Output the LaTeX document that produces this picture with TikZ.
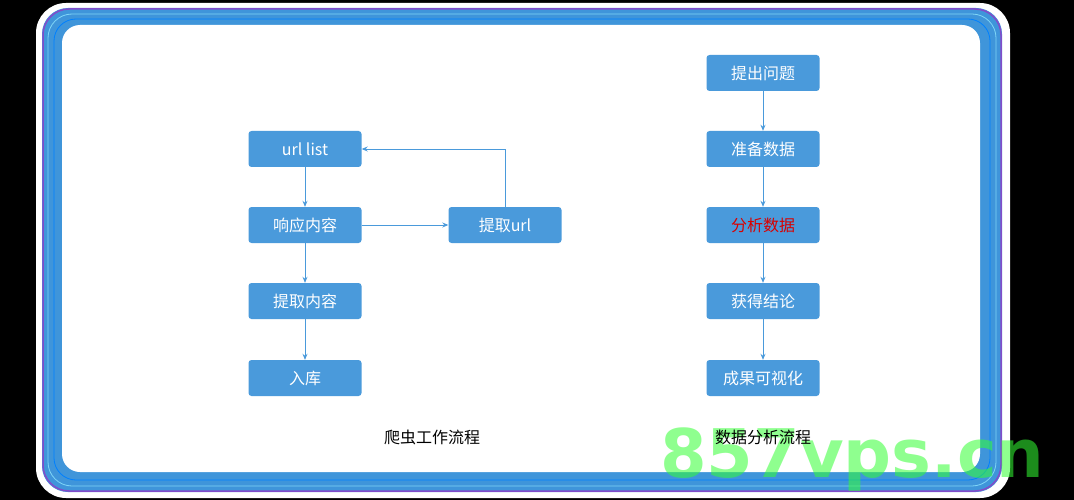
\documentclass[tikz,border=0pt]{standalone}
\usepackage{fontspec}
\setmainfont{Noto Sans CJK SC}
\newfontfamily\wm{DejaVu Sans}
\usetikzlibrary{arrows.meta}
\definecolor{boxc}{HTML}{4A9ADB}
\definecolor{linec}{HTML}{4A9ADB}
\definecolor{framec}{HTML}{3F95DA}
\begin{document}
\begin{tikzpicture}[x=1pt,y=-1pt,
  fbox/.style={fill=boxc,rounded corners=3pt,minimum width=113pt,minimum height=36pt,text=white,font=\fontsize{16}{18}\selectfont,inner sep=0pt},
  conn/.style={draw=linec,line width=0.9pt,-{Stealth[length=6pt,width=5pt]}},
  lbl/.style={font=\fontsize{16}{18}\selectfont,text=black}]
\useasboundingbox (0,0) rectangle (1074,500);
\fill[black] (0,0) rectangle (1074,500);
\fill[white,rounded corners=30pt] (36,3) rectangle (1010,498);
\fill[framec,rounded corners=26pt] (42,8) rectangle (1002,492);
\draw[violet!60!blue!70,line width=1.5pt,rounded corners=26pt] (43,9) rectangle (1001,491);
\draw[cyan!50,line width=0.8pt,rounded corners=24pt] (48,14) rectangle (996,486);
\draw[blue!50!cyan,line width=0.8pt,rounded corners=22pt] (54,19) rectangle (990,480);
\fill[white,rounded corners=18pt] (62,25) rectangle (980,472);
\node[fbox] (url) at (305,149) {url list};
\node[fbox] (resp) at (305,225) {响应内容};
\node[fbox] (ext) at (305,301) {提取内容};
\node[fbox] (db) at (305,378) {入库};
\node[fbox] (eu) at (505,225) {提取url};
\draw[conn] (url) -- (resp);
\draw[conn] (resp) -- (ext);
\draw[conn] (ext) -- (db);
\draw[conn] (resp) -- (eu);
\draw[conn] (eu.north) |- (url.east);
\node[fbox] (a1) at (763,73) {提出问题};
\node[fbox] (a2) at (763,149) {准备数据};
\node[fbox,text=red!85!black] (a3) at (763,225) {分析数据};
\node[fbox] (a4) at (763,301) {获得结论};
\node[fbox] (a5) at (763,378) {成果可视化};
\draw[conn] (a1) -- (a2);
\draw[conn] (a2) -- (a3);
\draw[conn] (a3) -- (a4);
\draw[conn] (a4) -- (a5);
\node[font=\wm\bfseries\fontsize{67}{70}\selectfont,text=green!80!white,text opacity=0.55,anchor=base west,inner sep=0pt] (wmk) at (660,477) {857vps.cn};
\node[lbl] (t1) at (432,437) {爬虫工作流程};
\node[lbl] (t2) at (763,437) {数据分析流程};
\end{tikzpicture}
\end{document}
